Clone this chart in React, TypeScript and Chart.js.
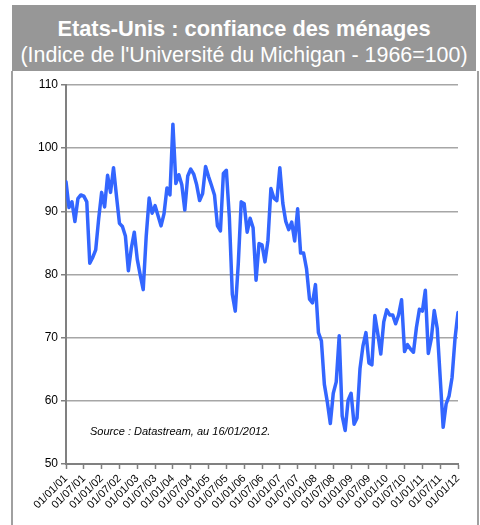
import React, { useEffect, useRef } from "react";
import { Chart, registerables } from "chart.js";

Chart.register(...registerables);

const TITLE = "Etats-Unis : confiance des ménages";
const SUBTITLE = "(Indice de l'Université du Michigan - 1966=100)";
const SOURCE = "Source : Datastream, au 16/01/2012.";

const tickLabels = [
  "01/01/01", "01/07/01", "01/01/02", "01/07/02", "01/01/03", "01/07/03",
  "01/01/04", "01/07/04", "01/01/05", "01/07/05", "01/01/06", "01/07/06",
  "01/01/07", "01/07/07", "01/01/08", "01/07/08", "01/01/09", "01/07/09",
  "01/01/10", "01/07/10", "01/01/11", "01/07/11", "01/01/12",
];

const y2001 = [94.7, 90.6, 91.5, 88.4, 92.0, 92.6, 92.4, 91.5, 81.8, 82.7, 83.9, 88.8];
const y2002 = [93.0, 90.7, 95.7, 93.0, 96.9, 92.4, 88.1, 87.6, 86.1, 80.6, 84.2, 86.7];
const y2003 = [82.4, 79.9, 77.6, 86.0, 92.1, 89.7, 90.9, 89.3, 87.7, 89.6, 93.7, 92.6];
const y2004 = [103.8, 94.4, 95.8, 94.2, 90.2, 95.6, 96.7, 95.9, 94.2, 91.7, 92.8, 97.1];
const y2005 = [95.5, 94.1, 92.6, 87.7, 86.9, 96.0, 96.5, 89.1, 76.9, 74.2, 81.6, 91.5];
const y2006 = [91.2, 86.7, 88.9, 87.4, 79.1, 84.9, 84.7, 82.0, 85.4, 93.6, 92.1, 91.7];
const y2007 = [96.9, 91.3, 88.4, 87.1, 88.3, 85.3, 90.4, 83.4, 83.4, 80.9, 76.1, 75.5];
const y2008 = [78.4, 70.8, 69.5, 62.6, 59.8, 56.4, 61.2, 63.0, 70.3, 57.6, 55.3, 60.1];
const y2009 = [61.2, 56.3, 57.3, 65.1, 68.7, 70.8, 66.0, 65.7, 73.5, 70.6, 67.4, 72.5];
const y2010 = [74.4, 73.6, 73.6, 72.2, 73.6, 76.0, 67.8, 68.9, 68.2, 67.7, 71.6, 74.5];
const y2011 = [74.2, 77.5, 67.5, 69.8, 74.3, 71.5, 63.7, 55.8, 59.5, 60.8, 63.7, 69.9];
const y2012 = [74.0];

const sentiment = [
  ...y2001, ...y2002, ...y2003, ...y2004, ...y2005, ...y2006,
  ...y2007, ...y2008, ...y2009, ...y2010, ...y2011, ...y2012,
];

const yMin = 50;
const yMax = 110;
const yStep = 10;

const FONT = "'Liberation Sans', Arial, sans-serif";

export default function App() {
  const canvasRef = useRef<HTMLCanvasElement | null>(null);

  useEffect(() => {
    const canvas = canvasRef.current;
    if (!canvas) return;
    const chart = new Chart(canvas, {
      type: "line",
      data: {
        datasets: [
          {
            data: sentiment.map((v, i) => ({ x: i, y: v })),
            borderColor: "#3366ff",
            borderWidth: 3.5,
            pointRadius: 0,
            tension: 0,
            fill: false,
            borderJoinStyle: "round",
            borderCapStyle: "round",
          },
        ],
      },
      options: {
        responsive: false,
        animation: false,
        plugins: { legend: { display: false }, tooltip: { enabled: false }, title: { display: false } },
        layout: { padding: { left: 0, top: 85, right: 22, bottom: 11 } },
        scales: {
          x: {
            type: "linear",
            min: 0,
            max: sentiment.length - 1,
            afterBuildTicks: (s: any) => {
              s.ticks = tickLabels.map((_, k) => ({ value: k * 6 }));
            },
            ticks: {
              autoSkip: false,
              maxRotation: 45,
              minRotation: 45,
              padding: 3,
              color: "#000",
              font: { family: FONT, size: 11 },
              callback: (v: any) => tickLabels[Math.round(Number(v) / 6)] ?? "",
            },
            grid: {
              drawOnChartArea: false,
              drawTicks: true,
              tickLength: 5,
              tickColor: "#808080",
              tickWidth: 1.5,
            },
            border: { color: "#808080", width: 2 },
            afterFit: (s: any) => {
              s.height = 50;
              s.paddingLeft = 0;
              s.paddingRight = 0;
            },
          },
          y: {
            min: yMin,
            max: yMax,
            ticks: {
              stepSize: yStep,
              padding: 3,
              color: "#000",
              font: { family: FONT, size: 12 },
            },
            grid: {
              color: "#a6a6a6",
              lineWidth: 1.5,
              tickLength: 5,
              tickColor: "#808080",
            },
            border: { color: "#808080", width: 2 },
            afterFit: (s: any) => {
              s.width = 66;
              s.paddingTop = 0;
              s.paddingBottom = 0;
            },
          },
        },
      },
    } as any);
    return () => chart.destroy();
  }, []);

  return (
    <div style={{ position: "absolute", left: 0, top: 0, width: 480, height: 525, background: "#fff", overflow: "hidden" }}>
      <div
        style={{
          position: "absolute",
          left: 12,
          top: 5,
          width: 464,
          height: 66,
          background: "#979797",
          color: "#fff",
          fontFamily: FONT,
          textAlign: "center",
        }}
      >
        <div style={{ position: "absolute", left: 0, right: 0, top: 11, fontSize: 21.8, fontWeight: "bold", lineHeight: "25px", whiteSpace: "nowrap" }}>{TITLE}</div>
        <div style={{ position: "absolute", left: 0, right: 0, top: 38, fontSize: 21.4, lineHeight: "25px", whiteSpace: "nowrap" }}>{SUBTITLE}</div>
      </div>
      <div
        style={{
          position: "absolute",
          left: 11,
          top: 71,
          width: 464,
          height: 470,
          borderLeft: "2px solid #a0a0a0",
          borderRight: "2px solid #a0a0a0",
        }}
      />
      <canvas ref={canvasRef} width={480} height={525} style={{ position: "absolute", left: 0, top: 0, width: 480, height: 525 }} />
      <div
        style={{
          position: "absolute",
          left: 90,
          top: 425,
          fontFamily: FONT,
          fontStyle: "italic",
          fontSize: 11,
          color: "#000",
          whiteSpace: "nowrap",
        }}
      >
        {SOURCE}
      </div>
    </div>
  );
}
